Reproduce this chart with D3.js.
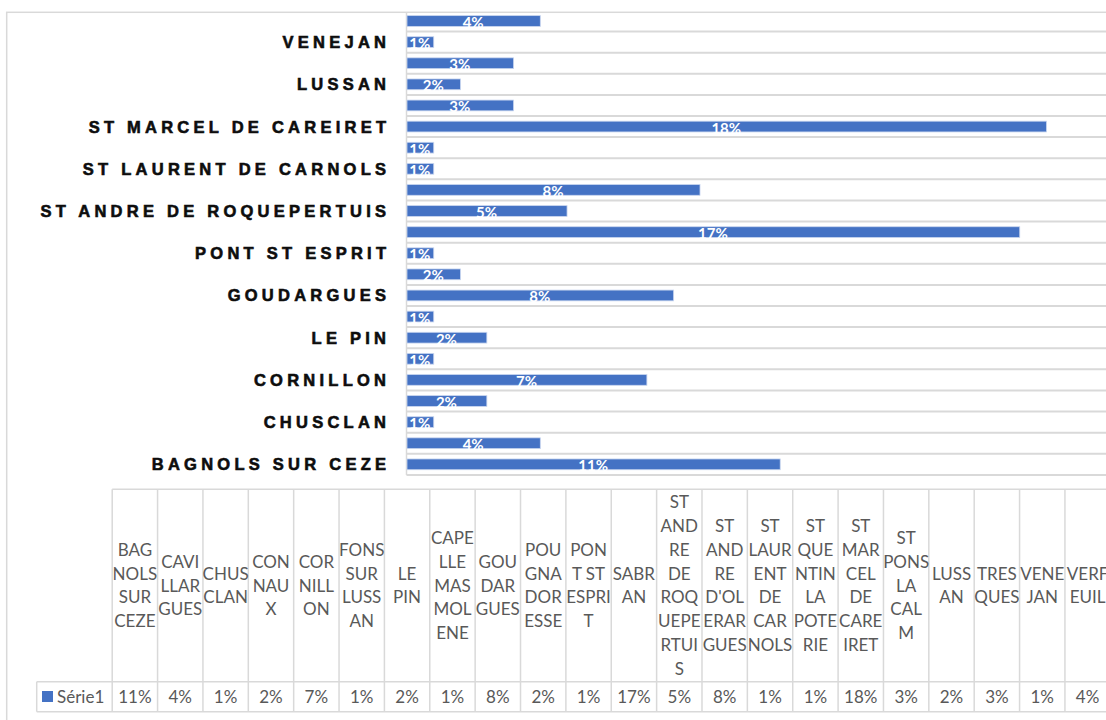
<!DOCTYPE html>
<html><head><meta charset="utf-8">
<script src="https://cdn.jsdelivr.net/npm/d3@7"></script>
<style>
html,body{margin:0;padding:0;background:#fff;overflow:hidden;}
svg{display:block;}
</style></head>
<body>
<svg id="chart" width="1106" height="720"></svg>
<script>
const categories = ["BAGNOLS SUR CEZE","CAVILLARGUES","CHUSCLAN","CONNAUX","CORNILLON","FONS SUR LUSSAN","LE PIN","CAPELLE MASMOLENE","GOUDARGUES","POUGNADORESSE","PONT ST ESPRIT","SABRAN","ST ANDRE DE ROQUEPERTUIS","ST ANDRE D'OLERARGUES","ST LAURENT DE CARNOLS","ST QUENTIN LA POTERIE","ST MARCEL DE CAREIRET","ST PONS LA CALM","LUSSAN","TRESQUES","VENEJAN","VERFEUIL"];
const values = [0.1061,0.0379,0.0076,0.0227,0.0682,0.0076,0.0227,0.0076,0.0758,0.0152,0.0076,0.1742,0.0455,0.0833,0.0076,0.0076,0.1818,0.0303,0.0152,0.0303,0.0076,0.0379];
const tableHeaderLines = [
 ["BAG","NOLS","SUR","CEZE"],["CAVI","LLAR","GUES"],["CHUS","CLAN"],["CON","NAU","X"],["COR","NILL","ON"],
 ["FONS","SUR","LUSS","AN"],["LE","PIN"],["CAPE","LLE","MAS","MOL","ENE"],["GOU","DAR","GUES"],["POU","GNA","DOR","ESSE"],
 ["PON","T ST","ESPRI","T"],["SABR","AN"],["ST","AND","RE","DE","ROQ","UEPE","RTUI","S"],["ST","AND","RE","D'OL","ERAR","GUES"],
 ["ST","LAUR","ENT","DE","CAR","NOLS"],["ST","QUE","NTIN","LA","POTE","RIE"],["ST","MAR","CEL","DE","CARE","IRET"],
 ["ST","PONS","LA","CAL","M"],["LUSS","AN"],["TRES","QUES"],["VENE","JAN"],["VERF","EUIL"]];
const seriesName = "Série1";
const xDomain = [0, 0.2];

const BLUE = "#4472c4", GRID = "#d9d9d9", TXT = "#595959";
const svg = d3.select("#chart");
const fmt = d3.format(".0%");

// chart frame
svg.append("rect").attr("x",6.7).attr("y",12.3).attr("width",1130).attr("height",730)
  .attr("fill","none").attr("stroke",GRID).attr("stroke-width",1.5);

const plot = {left:406.5, right:1110, top:10.45, bottom:474.9, frameTop:12.3};
const x = d3.scaleLinear().domain(xDomain).range([plot.left, plot.right]);
const y = d3.scaleBand().domain(categories).range([plot.bottom, plot.top])
  .paddingInner(0.49).paddingOuter(0.245);

// gridlines at category boundaries
const gap = (y.step() - y.bandwidth())/2;
const bounds = categories.slice(0,-1).map(c => y(c) - gap).concat([plot.bottom]);
svg.append("g").selectAll("line").data(bounds).join("line")
  .attr("x1",plot.left).attr("x2",1106).attr("y1",d=>d).attr("y2",d=>d)
  .attr("stroke",GRID).attr("stroke-width",2);

// vertical axis line
svg.append("line").attr("x1",plot.left).attr("x2",plot.left).attr("y1",plot.frameTop).attr("y2",plot.bottom)
  .attr("stroke",GRID).attr("stroke-width",1.5);

// bars
svg.append("g").selectAll("rect").data(categories).join("rect")
  .attr("x",x(0)+0.5).attr("y",c=>y(c))
  .attr("width",(c,i)=>x(values[i])-x(0)).attr("height",y.bandwidth())
  .attr("fill",BLUE).attr("stroke","#c9d6ef").attr("stroke-width",0.8);

// data labels
svg.append("g").selectAll("text").data(categories).join("text")
  .attr("x",(c,i)=>(x(0)+x(values[i]))/2)
  .attr("y",c=>y(c)+y.bandwidth()/2+7)
  .attr("text-anchor","middle").attr("fill","#fff")
  .attr("font-family","Lato, 'Open Sans', sans-serif").attr("font-weight","bold").attr("font-size",15)
  .text((c,i)=>fmt(values[i]));

// y axis labels (every other category)
const LS = 4.25;
const yAxis = d3.axisLeft(y).tickSize(0).tickPadding(0)
  .tickValues(categories.filter((c,i)=>i%2===0));
const gy = svg.append("g").attr("transform",`translate(${386+LS},0)`).call(yAxis);
gy.select(".domain").remove();
gy.selectAll("text").attr("font-family","'Liberation Sans', Arial, sans-serif")
  .attr("font-weight","bold").attr("font-size",16.5).attr("fill","#0d0d0d")
  .attr("stroke","#0d0d0d").attr("stroke-width",0.6)
  .attr("letter-spacing",LS).attr("dy","0.36em");

// data table
const tbl = {left:112.2, right:1110.3, top:489.3, mid:681.7, bottom:711.7, legendLeft:36.7};
const cx = d3.scaleBand().domain(categories).range([tbl.left, tbl.right]);
const tg = svg.append("g");
const hline = (x1,x2,yy)=>tg.append("line").attr("x1",x1).attr("x2",x2).attr("y1",yy).attr("y2",yy).attr("stroke",GRID).attr("stroke-width",1.5);
const vline = (xx,y1,y2)=>tg.append("line").attr("x1",xx).attr("x2",xx).attr("y1",y1).attr("y2",y2).attr("stroke",GRID).attr("stroke-width",1.5);
hline(tbl.left, 1106, tbl.top);
hline(tbl.legendLeft, 1106, tbl.mid);
hline(tbl.legendLeft, 1106, tbl.bottom);
vline(tbl.legendLeft, tbl.mid, tbl.bottom);
categories.forEach(c=>vline(cx(c), tbl.top, tbl.bottom));

const FONT = "Lato, 'Open Sans', sans-serif";
const lineH = 23.8;
const headCenter = (tbl.top + tbl.mid)/2;
categories.forEach((c,i)=>{
  const lines = tableHeaderLines[i];
  const t = tg.append("text").attr("text-anchor","middle").attr("fill",TXT)
    .attr("font-family",FONT).attr("font-size",17);
  const y0 = headCenter - (lines.length-1)*lineH/2 + 6;
  lines.forEach((l,k)=>t.append("tspan").attr("x",cx(c)+cx.bandwidth()/2).attr("y",y0+k*lineH).text(l));
  tg.append("text").attr("x",cx(c)+cx.bandwidth()/2).attr("y",(tbl.mid+tbl.bottom)/2+6)
    .attr("text-anchor","middle").attr("fill",TXT).attr("font-family",FONT).attr("font-size",17)
    .text(fmt(values[i]));
});
// legend key
tg.append("rect").attr("x",42).attr("y",691).attr("width",11).attr("height",11).attr("fill",BLUE);
tg.append("text").attr("x",57).attr("y",(tbl.mid+tbl.bottom)/2+6).attr("fill",TXT)
  .attr("font-family",FONT).attr("font-size",17).text(seriesName);
</script>
</body></html>
